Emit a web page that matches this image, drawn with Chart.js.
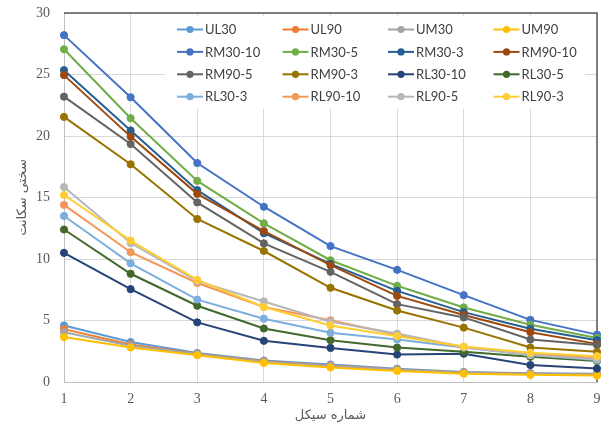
<!DOCTYPE html>
<html>
<head>
<meta charset="utf-8">
<script src="https://cdn.jsdelivr.net/npm/chart.js@4.4.1/dist/chart.umd.min.js"></script>
<style>
  html, body { margin: 0; padding: 0; background: #fff; }
  #wrap { width: 603px; height: 426px; position: relative; }
</style>
</head>
<body>
<div id="wrap"><canvas id="chart"></canvas></div>
<script>
// شماره سیکل
const cycles = ["1", "2", "3", "4", "5", "6", "7", "8", "9"];

const seriesNames = [
  "UL30", "UL90", "UM30", "UM90",
  "RM30-10", "RM30-5", "RM30-3", "RM90-10",
  "RM90-5", "RM90-3", "RL30-10", "RL30-5",
  "RL30-3", "RL90-10", "RL90-5", "RL90-3"
];

const seriesColors = [
  "#5B9BD5", "#ED7D31", "#A5A5A5", "#FFC000",
  "#4472C4", "#70AD47", "#255E91", "#9E480E",
  "#636363", "#997300", "#264478", "#43682B",
  "#7CAFDD", "#F1975A", "#B7B7B7", "#FFCD33"
];

// سختی سکانت
const ul30   = [4.6, 3.25, 2.36, 1.75, 1.42, 1.08, 0.82, 0.72, 0.68];
const ul90   = [4.3, 3.05, 2.3, 1.68, 1.35, 1.02, 0.78, 0.68, 0.62];
const um30   = [4.05, 2.95, 2.27, 1.65, 1.32, 1.0, 0.76, 0.66, 0.6];
const um90   = [3.65, 2.8, 2.17, 1.55, 1.18, 0.9, 0.68, 0.58, 0.52];
const rm30_10 = [28.2, 23.15, 17.8, 14.25, 11.05, 9.12, 7.06, 5.05, 3.85];
const rm30_5  = [27.05, 21.45, 16.35, 12.9, 9.9, 7.82, 6.06, 4.65, 3.58];
const rm30_3  = [25.35, 20.45, 15.6, 12.1, 9.6, 7.41, 5.68, 4.33, 3.4];
const rm90_10 = [24.95, 19.95, 15.3, 12.27, 9.5, 7.0, 5.45, 4.05, 3.1];
const rm90_5  = [23.2, 19.35, 14.6, 11.27, 8.96, 6.33, 5.25, 3.45, 3.0];
const rm90_3  = [21.55, 17.7, 13.25, 10.65, 7.66, 5.81, 4.42, 2.8, 2.45];
const rl30_10 = [10.5, 7.55, 4.85, 3.35, 2.77, 2.23, 2.3, 1.38, 1.09];
const rl30_5  = [12.4, 8.8, 6.2, 4.35, 3.4, 2.8, 2.45, 2.05, 1.7];
const rl30_3  = [13.5, 9.65, 6.7, 5.15, 4.0, 3.45, 2.8, 2.2, 1.78];
const rl90_10 = [14.4, 10.55, 8.05, 6.1, 5.02, 3.85, 2.82, 2.3, 1.95];
const rl90_5  = [15.85, 11.3, 8.2, 6.55, 4.9, 3.94, 2.85, 2.2, 1.85];
const rl90_3  = [15.2, 11.5, 8.3, 6.1, 4.6, 3.72, 2.88, 2.38, 2.1];

const seriesValues = [
  ul30, ul90, um30, um90,
  rm30_10, rm30_5, rm30_3, rm90_10,
  rm90_5, rm90_3, rl30_10, rl30_5,
  rl30_3, rl90_10, rl90_5, rl90_3
];

const yTicks = [0, 5, 10, 15, 20, 25, 30];

const datasets = seriesNames.map((name, i) => ({
  label: name,
  data: seriesValues[i],
  borderColor: seriesColors[i],
  backgroundColor: seriesColors[i],
  pointBackgroundColor: seriesColors[i],
  pointBorderColor: seriesColors[i],
  borderWidth: 2,
  pointRadius: 3.6,
  pointBorderWidth: 1,
  tension: 0,
  order: -i   // later series on top, like Excel
}));

// dark frame on top and right of the plot
const plotFrame = {
  id: "plotFrame",
  beforeDatasetsDraw(chart) {
    const { ctx, chartArea: a } = chart;
    ctx.save();
    ctx.strokeStyle = "#595959";
    ctx.lineWidth = 1.5;
    ctx.beginPath();
    ctx.moveTo(a.left, a.top);
    ctx.lineTo(a.right, a.top);
    ctx.lineTo(a.right, a.bottom);
    ctx.stroke();
    ctx.restore();
  }
};

// legend grid drawn like the Excel one (4 columns, white box)
const gridLegend = {
  id: "gridLegend",
  afterDraw(chart) {
    const ctx = chart.ctx;
    const top = chart.chartArea.top;
    ctx.save();
    ctx.fillStyle = "#fff";
    ctx.fillRect(165, top + 3, 420, 93);
    ctx.font = "13px Lato, 'Open Sans', sans-serif";
    ctx.textBaseline = "middle";
    ctx.textAlign = "left";
    seriesNames.forEach((name, i) => {
      const col = i % 4, row = Math.floor(i / 4);
      const x0 = 177 + col * 105.5;
      const y = top + 16.5 + row * 22.4;
      ctx.strokeStyle = seriesColors[i];
      ctx.lineWidth = 2;
      ctx.beginPath();
      ctx.moveTo(x0, y);
      ctx.lineTo(x0 + 26, y);
      ctx.stroke();
      ctx.fillStyle = seriesColors[i];
      ctx.beginPath();
      ctx.arc(x0 + 13, y, 3.6, 0, Math.PI * 2);
      ctx.fill();
      ctx.fillStyle = "#404040";
      ctx.fillText(name, x0 + 28, y + 0.5);
    });
    ctx.restore();
  }
};

new Chart(document.getElementById("chart"), {
  type: "line",
  data: { labels: cycles, datasets },
  plugins: [plotFrame, gridLegend],
  options: {
    responsive: true,
    maintainAspectRatio: false,
    animation: false,
    layout: { padding: { top: 13, right: 6, left: 0, bottom: 0 } },
    plugins: {
      legend: { display: false },
      tooltip: { enabled: false }
    },
    scales: {
      x: {
        type: "category",
        offset: false,
        afterFit: s => { s.height = 44; s.paddingLeft = 0; s.paddingRight = 0; },
        grid: { color: "#d9d9d9", drawTicks: false },
        border: { color: "#bfbfbf" },
        ticks: {
          padding: 9,
          color: "#595959",
          font: { family: "'Liberation Serif', serif", size: 14 }
        },
        title: {
          display: true,
          text: "شماره سیکل",
          color: "#595959",
          font: { family: "'DejaVu Sans', sans-serif", size: 13 },
          padding: { top: 0, bottom: 3 }
        }
      },
      y: {
        min: 0,
        max: 30,
        afterFit: s => { s.width = 64; s.paddingTop = 0; s.paddingBottom = 0; },
        afterBuildTicks: s => { s.ticks = yTicks.map(v => ({ value: v })); },
        grid: { color: "#d9d9d9", drawTicks: false },
        border: { color: "#bfbfbf" },
        ticks: {
          padding: 14,
          color: "#595959",
          font: { family: "'Liberation Serif', serif", size: 14 }
        },
        title: {
          display: true,
          text: "سختی سکانت",
          color: "#595959",
          font: { family: "'DejaVu Sans', sans-serif", size: 13 },
          padding: { top: 15, bottom: 0 }
        }
      }
    }
  }
});
</script>
</body>
</html>
